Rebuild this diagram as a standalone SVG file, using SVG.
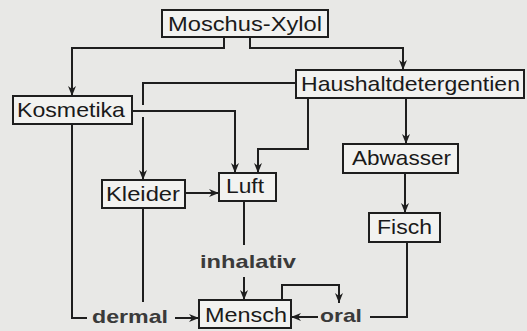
<svg xmlns="http://www.w3.org/2000/svg" width="527" height="331" viewBox="0 0 527 331">
<defs>
<marker id="ah" viewBox="0 0 10 8" refX="10" refY="4" markerWidth="10" markerHeight="8" markerUnits="userSpaceOnUse" orient="auto">
<path d="M0,0 L10,4 L0,8 L3,4 Z" fill="#1e1e1e"/>
</marker>
<style>
.box{fill:#f2f2f0;stroke:#1e1e1e;stroke-width:2}
.t{font-family:"Liberation Sans",Arial,sans-serif;font-size:21px;fill:#1a1a1a}
.l{font-family:"Liberation Sans",Arial,sans-serif;font-size:19px;font-weight:bold;fill:#3a3a3a}
.c{fill:none;stroke:#1e1e1e;stroke-width:2}
.a{marker-end:url(#ah)}
</style>
</defs>
<rect width="527" height="331" fill="#e8e8e6"/>
<g id="connectors">
<path class="c a" d="M224,37 V48 H72 V96"/>
<path class="c a" d="M250,37 V48 H403 V70"/>
<path class="c a" d="M296,83 H143 V105 M143,117 V180"/>
<path class="c a" d="M132,111 H235 V173"/>
<path class="c a" d="M308,98 V149 H258 V173"/>
<path class="c a" d="M406,98 V144"/>
<path class="c a" d="M405,173 V213"/>
<path class="c a" d="M185,193 H219"/>
<path class="c" d="M72,124 V318 H87"/>
<path class="c" d="M143,208 V302"/>
<path class="c a" d="M175,318 H199"/>
<path class="c" d="M244,201 V245"/>
<path class="c a" d="M244,277 V300"/>
<path class="c a" d="M282,300 V285 H339 V303"/>
<path class="c a" d="M318,317 H291"/>
<path class="c" d="M407,242 V317 H370"/>
</g>
<g id="moschus"><rect class="box" x="162" y="10" width="166" height="27"/><text class="t" x="168" y="31" textLength="154" lengthAdjust="spacingAndGlyphs">Moschus-Xylol</text></g>
<g id="kosmetika"><rect class="box" x="13" y="96" width="119" height="28"/><text class="t" x="17" y="117" textLength="108" lengthAdjust="spacingAndGlyphs">Kosmetika</text></g>
<g id="haushalt"><rect class="box" x="296" y="70" width="228" height="28"/><text class="t" x="301" y="91" textLength="219" lengthAdjust="spacingAndGlyphs">Haushaltdetergentien</text></g>
<g id="kleider"><rect class="box" x="102" y="180" width="83" height="28"/><text class="t" x="106" y="201" textLength="74" lengthAdjust="spacingAndGlyphs">Kleider</text></g>
<g id="luft"><rect class="box" x="219" y="173" width="57" height="28"/><text class="t" x="226" y="193" textLength="38" lengthAdjust="spacingAndGlyphs">Luft</text></g>
<g id="abwasser"><rect class="box" x="343" y="144" width="115" height="29"/><text class="t" x="352" y="165" textLength="99" lengthAdjust="spacingAndGlyphs">Abwasser</text></g>
<g id="fisch"><rect class="box" x="369" y="213" width="71" height="29"/><text class="t" x="377" y="234" textLength="55" lengthAdjust="spacingAndGlyphs">Fisch</text></g>
<g id="mensch"><rect class="box" x="199" y="300" width="92" height="28"/><text class="t" x="205" y="322" textLength="82" lengthAdjust="spacingAndGlyphs">Mensch</text></g>
<g id="inhalativ"><text class="l" x="200" y="268" textLength="96" lengthAdjust="spacingAndGlyphs">inhalativ</text></g>
<g id="dermal"><text class="l" x="92" y="323" textLength="76" lengthAdjust="spacingAndGlyphs">dermal</text></g>
<g id="oral"><text class="l" x="320" y="322" textLength="42" lengthAdjust="spacingAndGlyphs">oral</text></g>
</svg>
